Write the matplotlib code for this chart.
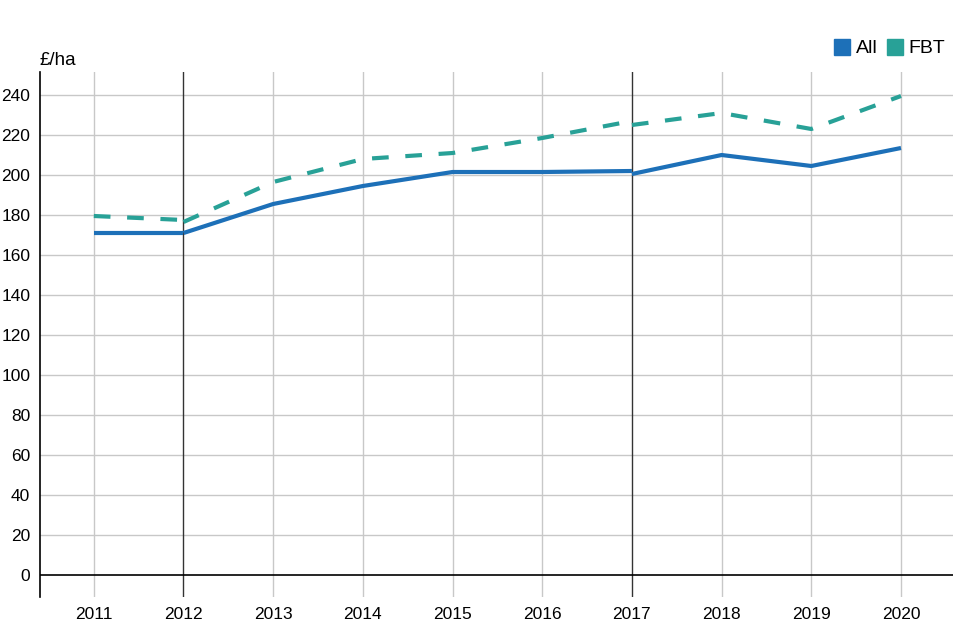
import matplotlib.pyplot as plt
from matplotlib.lines import Line2D

# Data (the vertical black lines mark series breaks in 2012 and 2017)
years = list(range(2011, 2021))
all_seg1 = [171, 171]                                # 2011-2012
all_seg2 = [171, 185.5, 194.5, 201.5, 201.5, 202]    # 2012-2017
all_seg3 = [200.5, 210, 204.5, 213.5]                # 2017-2020
fbt_seg1 = [179.5, 177.5]
fbt_seg2 = [176.5, 196.5, 208, 211, 218.5, 227]
fbt_seg3 = [225, 231, 223, 239.5]
breaks = [2012, 2017]
yticks = list(range(0, 241, 20))

blue = '#1d70b8'
teal = '#28a197'

plt.rcParams['font.family'] = ['Liberation Sans', 'DejaVu Sans']

fig = plt.figure(figsize=(9.6, 6.4), dpi=100)
ax = fig.add_axes([40/960, 43/640, 913/960, 525/640])

ax.set_xlim(2010.4, 2020.58)
ax.set_ylim(-11, 251.5)

# grid
for yv in yticks[1:]:
    ax.axhline(yv, color='#c8c8c8', lw=1, zorder=0)
for xv in years:
    if xv not in breaks:
        ax.axvline(xv, color='#c8c8c8', lw=1, zorder=0)
for xv in breaks:
    ax.axvline(xv, color='#333333', lw=1, zorder=1)
ax.axhline(0, color='black', lw=1.2, zorder=1)

segs_x = [years[0:2], years[1:7], years[6:10]]
for xs, ys in zip(segs_x, [all_seg1, all_seg2, all_seg3]):
    ax.plot(xs, ys, color=blue, lw=3, solid_capstyle='butt', zorder=3)
for xs, ys in zip(segs_x, [fbt_seg1, fbt_seg2, fbt_seg3]):
    ax.plot(xs, ys, color=teal, lw=3, dashes=(4, 4), dash_capstyle='butt', zorder=3)

for s in ['top', 'right', 'bottom']:
    ax.spines[s].set_visible(False)
ax.spines['left'].set_linewidth(1.2)

ax.set_xticks(years)
ax.set_yticks(yticks)
ax.tick_params(axis='both', length=0, labelsize=12.5)
ax.tick_params(axis='x', pad=7)
ax.tick_params(axis='y', pad=7)

ax.text(0, 1.006, '£/ha', transform=ax.transAxes, fontsize=13.5, ha='left', va='bottom')

handles = [Line2D([], [], marker='s', ls='none', color=blue, markersize=11),
           Line2D([], [], marker='s', ls='none', color=teal, markersize=11)]
ax.legend(handles, ['All', 'FBT'], loc='lower right', bbox_to_anchor=(1.0, 1.013),
          frameon=False, fontsize=14, handlelength=0.8, handletextpad=0.3,
          columnspacing=0.5, ncol=2, borderaxespad=0)

fig.savefig('out.png', dpi=100)
